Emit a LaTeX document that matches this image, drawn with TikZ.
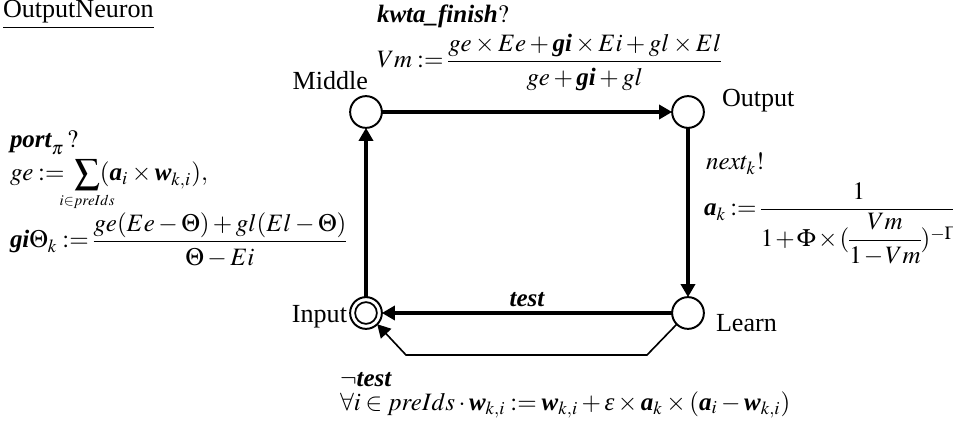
\documentclass[tikz,border=0pt]{standalone}
\usepackage{amsmath}
\usepackage{mathptmx}
\usepackage{fontspec}
\setmainfont{Liberation Serif}
\usetikzlibrary{arrows.meta}
\newcommand{\bi}[1]{\text{\bfseries\itshape #1}}
\newcommand{\eps}{\text{\itshape ε}}
\newcommand{\tightmath}{\medmuskip=2.5mu\relax\thickmuskip=3.5mu\relax\nulldelimiterspace=0pt\relax}
\newcommand{\tightermath}{\medmuskip=1.5mu\relax\thickmuskip=3mu\relax\nulldelimiterspace=0pt\relax}
\tikzset{
  every node/.style={font=\fontsize{12}{14}\selectfont, inner sep=0pt, outer sep=0pt},
  stnode/.style={circle, draw, line width=0.9pt, minimum size=14.6pt, fill=white},
  arr/.style={line width=1.4pt, -{Triangle[length=6pt,width=6.5pt]}},
  arrthin/.style={line width=0.75pt, -{Triangle[length=6pt,width=6.5pt]}},
  lbl/.style={anchor=base west},
  mlbl/.style={anchor=base west, font=\fontsize{11.5}{13}\selectfont\tightmath},
  mlbltight/.style={anchor=base west, font=\fontsize{11.5}{13}\selectfont\tightermath}
}
\begin{document}
\begin{tikzpicture}[x=0.46pt,y=-0.46pt]
\useasboundingbox (0,0) rectangle (953,425);
% states
\node[stnode] (M) at (366,112) {};
\node[stnode] (O) at (688,112) {};
\node[stnode] (L) at (688,313) {};
\node[stnode] (I) at (366,313) {};
\draw[line width=0.8pt] (I.center) circle[radius=5pt];
% state names
\node[anchor=base east] (tM) at (368,90) {Middle};
\node[anchor=base west] (tO) at (722,107) {Output};
\node[anchor=base west] (tL) at (716,332) {Learn};
\node[anchor=base east] (tI) at (347,323) {Input};
% title
\node[lbl] (title) at (3,18) {\underline{OutputNeuron}};
% transitions
\draw[arr] (M) -- (O);
\draw[arr] (O) -- (L);
\draw[arr] (L) -- node[above=2.8pt, font=\fontsize{11.5}{13}\selectfont] (ttest) {$\bi{test}$} (I);
\draw[arr] (I) -- (M);
\coordinate (r1) at (647,355);
\coordinate (r2) at (406,355);
\draw[arrthin] (L.south west) -- (r1) -- (r2) -- (I.south east);
% labels
\node[mlbl] (kw) at (377,23) {$\bi{kwta\_finish}?$};
\node[mlbl] (vm) at (377,68) {$Vm \mathrel{:=} \dfrac{ge\times Ee+\bi{gi}\times Ei+gl\times El}{ge+\bi{gi}+gl}$};
\node[mlbl] (port) at (10,148) {$\bi{port}_{\pi}\,?$};
\node[mlbl] (ge) at (10,181) {$\displaystyle ge \mathrel{:=}\;\sum\limits_{\hbox to 0pt{\hss$\scriptscriptstyle i\in preIds$\hss}}(\bi{a}_{i}\times\bi{w}_{k,i}),$};
\node[mlbl] (gi) at (10,248) {$\bi{gi}\Theta_{k} \mathrel{:=} \dfrac{ge(Ee-\Theta)+gl(El-\Theta)}{\Theta-Ei}$};
\node[mlbl] (nx) at (706,170) {$next_{k}!$};
\node[mlbltight] (ak) at (704,216) {$\bi{a}_{k} \mathrel{:=} \dfrac{1}{1+\Phi\times(\dfrac{Vm}{1-Vm})^{-\Gamma}}$};
\node[mlbl] (nt) at (340,387) {$\neg\bi{test}$};
\node[mlbl] (fa) at (340,410) {$\forall i\in preIds\cdot \bi{w}_{k,i}\mathrel{:=}\bi{w}_{k,i}+\eps\times\bi{a}_{k}\times(\bi{a}_{i}-\bi{w}_{k,i})$};
\end{tikzpicture}
\end{document}
